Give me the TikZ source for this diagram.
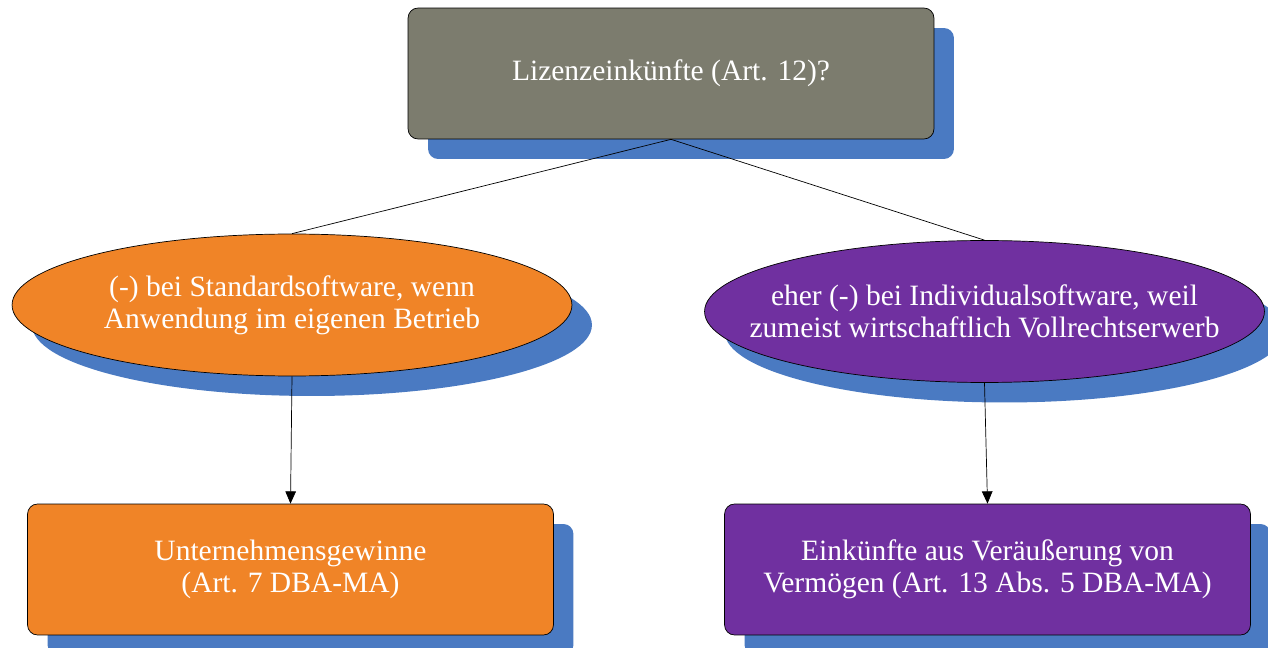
\documentclass[tikz,border=0pt]{standalone}
\usepackage{fontspec}
\setmainfont{Liberation Serif}
\usepackage{xcolor}
\usepackage{tikz}
\usetikzlibrary{arrows.meta,shapes.geometric,shadows}
\definecolor{shade}{HTML}{4A7AC2}
\definecolor{slate}{HTML}{7C7C6E}
\definecolor{orange}{HTML}{F08427}
\definecolor{purple}{HTML}{7030A0}
\definecolor{text}{HTML}{FFFFFF}

\begin{document}
\begin{tikzpicture}[x=0.02cm,y=-0.02cm,
  every node/.style={color=text,align=center,font=\fontsize{16.8}{18.4}\selectfont},
  shade/.style={drop shadow={shadow xshift=0.4cm,shadow yshift=-0.4cm,fill=shade,opacity=1}},
  card/.style={draw=black,rounded corners=0.2cm,minimum width=10.52cm,minimum height=2.62cm,inner sep=0pt,shade},
  oval/.style={draw=black,ellipse,minimum width=11.2cm,minimum height=2.84cm,inner ysep=0pt,inner xsep=-1.6cm,shade},
  link/.style={draw=black,thin},
  lead/.style={link,-{Triangle[width=6pt,length=7pt]}}]
  \useasboundingbox (0,0) rectangle (1268,648);

  \node[card,fill=slate] (lizenz) at (671,73.5) {Lizenzeinkünfte (Art. 12)?};

  \node[oval,fill=orange] (standard) at (292,305)
    {(-) bei Standardsoftware, wenn\\Anwendung im eigenen Betrieb};
  \node[oval,fill=purple] (individual) at (984.5,311.5)
    {eher (-) bei Individualsoftware, weil\\zumeist wirtschaftlich Vollrechtserwerb};

  \node[card,fill=orange] (gewinne) at (290.5,569.5)
    {Unternehmensgewinne\\(Art. 7 DBA-MA)};
  \node[card,fill=purple] (veraeusserung) at (987.5,569.5)
    {Einkünfte aus Veräußerung von\\Vermögen (Art. 13 Abs. 5 DBA-MA)};

  \draw[link] (lizenz.south) -- (standard.north);
  \draw[link] (lizenz.south) -- (individual.north);
  \draw[lead] (standard.south) -- (gewinne.north);
  \draw[lead] (individual.south) -- (veraeusserung.north);
\end{tikzpicture}
\end{document}
